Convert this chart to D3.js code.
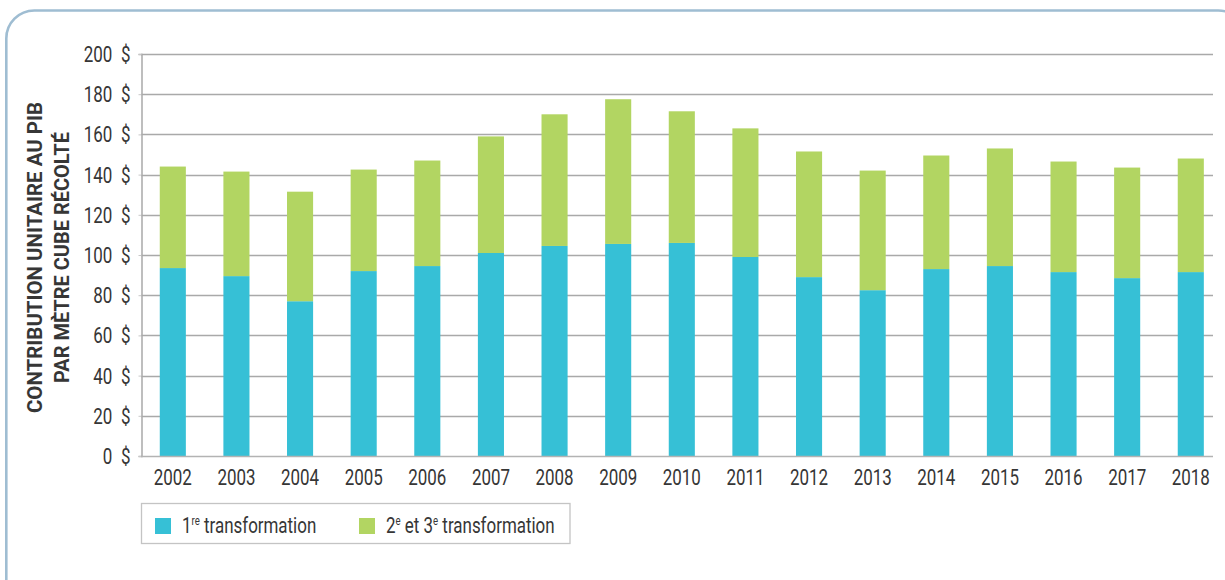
<!DOCTYPE html>
<html lang="fr">
<head>
<meta charset="utf-8">
<script src="https://cdn.jsdelivr.net/npm/d3@7"></script>
<style>
  html, body { margin: 0; padding: 0; background: #fff; }
  svg { display: block; }
  text { font-family: Roboto, "Liberation Sans", sans-serif; fill: #363636; }
</style>
</head>
<body>
<svg id="chart" width="1225" height="580"></svg>
<script>
// Contribution unitaire au PIB par mètre cube récolté ($), 2002–2018
const years = ["2002", "2003", "2004", "2005", "2006", "2007", "2008", "2009", "2010",
               "2011", "2012", "2013", "2014", "2015", "2016", "2017", "2018"];
const firstTransformation = [93.5, 89.5, 77, 92, 94.5, 101, 104.5, 105.5, 106,
                             99, 89, 82.5, 93, 94.5, 91.5, 88.5, 91.5];
const laterTransformation = [50.5, 52, 54.5, 50.5, 52.5, 58, 65.5, 72, 65.5,
                             64, 62.5, 59.5, 56.5, 58.5, 55, 55, 56.5];
const yTicks = [0, 20, 40, 60, 80, 100, 120, 140, 160, 180, 200];
const seriesKeys = ["premiere", "deuxTrois"];
const seriesColors = ["#36c0d6", "#b2d562"];

const rows = years.map((y, i) => ({
  year: y,
  premiere: firstTransformation[i],
  deuxTrois: laterTransformation[i]
}));

const NARROW = 0.77;   // horizontal squeeze for a condensed look
const FONT_SIZE = 22;

// Squeeze text horizontally while keeping its anchor point in place
function condense(sel, f) {
  sel.each(function () {
    const t = d3.select(this);
    const x0 = +t.attr("x") || 0;
    t.attr("x", x0 / f).attr("transform", `scale(${f},1)`);
  });
}

const svg = d3.select("#chart");

// Rounded frame around the figure
svg.append("rect")
  .attr("x", 6.3).attr("y", 10.5)
  .attr("width", 1240).attr("height", 640)
  .attr("rx", 28).attr("ry", 28)
  .attr("fill", "none")
  .attr("stroke", "#9fbdd2")
  .attr("stroke-width", 2.6);

const plotLeft = 141, plotRight = 1213, plotTop = 54, plotBottom = 456;

const y = d3.scaleLinear().domain([0, 200]).range([plotBottom, plotTop]);
const x = d3.scaleBand().domain(years)
  .range([plotLeft, 1222.6])
  .paddingInner(0.59).paddingOuter(0.295);

// Horizontal gridlines
svg.append("g")
  .selectAll("line")
  .data(yTicks.filter(d => d > 0))
  .join("line")
  .attr("x1", plotLeft).attr("x2", plotRight)
  .attr("y1", d => Math.round(y(d)) + 0.5).attr("y2", d => Math.round(y(d)) + 0.5)
  .attr("stroke", "#a9a9a9")
  .attr("stroke-width", 1.5);

// Y axis with dollar labels
const yAxis = d3.axisLeft(y)
  .tickValues(yTicks)
  .tickSize(3)
  .tickPadding(8)
  .tickFormat(d => d + "\u2002$");
const gy = svg.append("g")
  .attr("transform", `translate(${plotLeft + 0.5},0)`)
  .call(yAxis);
gy.select(".domain").attr("stroke", "#a9a9a9").attr("stroke-width", 1.5);
gy.selectAll(".tick line").attr("stroke", "#c8c8c8");
gy.selectAll(".tick text")
  .attr("font-size", FONT_SIZE)
  .attr("dy", "0.34em")
  .style("font-family", "Roboto, sans-serif")
  .attr("fill", "#363636")
  .call(condense, NARROW);

// Stacked bars
const stacked = d3.stack().keys(seriesKeys)(rows);
svg.append("g")
  .selectAll("g")
  .data(stacked)
  .join("g")
  .attr("fill", (d, i) => seriesColors[i])
  .selectAll("rect")
  .data(d => d)
  .join("rect")
  .attr("x", d => x(d.data.year))
  .attr("width", x.bandwidth())
  .attr("y", d => y(d[1]))
  .attr("height", d => y(d[0]) - y(d[1]));

// X axis
const xAxis = d3.axisBottom(x).tickSize(0).tickPadding(13);
const gx = svg.append("g")
  .attr("transform", `translate(0,${plotBottom})`)
  .call(xAxis);
gx.select(".domain")
  .attr("d", `M${plotLeft},0.5H${plotRight}`)
  .attr("stroke", "#b3b3b3").attr("stroke-width", 1.3);
gx.selectAll(".tick text")
  .attr("font-size", FONT_SIZE)
  .attr("dy", "0.71em")
  .style("font-family", "Roboto, sans-serif")
  .attr("fill", "#363636")
  .call(condense, NARROW);

// Y axis title (two lines)
const titleLines = ["CONTRIBUTION UNITAIRE AU PIB", "PAR MÈTRE CUBE RÉCOLTÉ"];
const titleLengths = [311, 251];
svg.append("g")
  .selectAll("text")
  .data(titleLines)
  .join("text")
  .attr("transform", (d, i) => `translate(${42 + i * 27},257.5) rotate(-90)`)
  .attr("text-anchor", "middle")
  .attr("font-size", 20.5)
  .attr("font-weight", "bold")
  .attr("fill", "#1f1f1f")
  .attr("textLength", (d, i) => titleLengths[i])
  .attr("lengthAdjust", "spacingAndGlyphs")
  .text(d => d);

// Legend
const legend = svg.append("g");
legend.append("rect")
  .attr("x", 141.5).attr("y", 503.5)
  .attr("width", 428.5).attr("height", 40)
  .attr("fill", "#fff")
  .attr("stroke", "#c4c4c4").attr("stroke-width", 1.3);

const legendItems = [
  { x: 155, parts: [["1", false], ["re", true], [" transformation", false]] },
  { x: 359, parts: [["2", false], ["e", true], [" et 3", false], ["e", true], [" transformation", false]] }
];
legendItems.forEach((item, i) => {
  legend.append("rect")
    .attr("x", item.x).attr("y", 518)
    .attr("width", 16).attr("height", 16)
    .attr("fill", seriesColors[i]);
  const t = legend.append("g")
    .attr("transform", `translate(${item.x + 27},533) scale(${NARROW},1)`)
    .append("text")
    .attr("font-size", FONT_SIZE);
  let raised = false;
  item.parts.forEach(([s, sup]) => {
    const ts = t.append("tspan").text(s);
    if (sup && !raised) { ts.attr("font-size", 12.5).attr("dy", -8.5); raised = true; }
    else if (!sup && raised) { ts.attr("dy", 8.5); raised = false; }
    else if (sup) ts.attr("font-size", 12.5);
  });
});
</script>
</body>
</html>
